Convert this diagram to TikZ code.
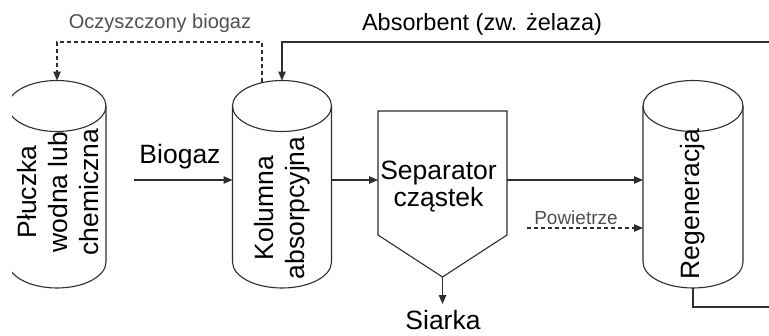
\documentclass[tikz,border=0pt]{standalone}
\usepackage{fontspec}
\setmainfont{Liberation Sans}
\usetikzlibrary{arrows.meta}
\definecolor{ln}{HTML}{2E2E2E}
\definecolor{lbl}{HTML}{505050}
\newcommand\drawcyl[2]{%
  \draw (#1,-106) ellipse [x radius=#2, y radius=25.5];
  \draw (#1-#2,-106) -- (#1-#2,-262) arc[start angle=180,end angle=360,x radius=#2,y radius=26] -- (#1+#2,-106);
}
\begin{document}
\begin{tikzpicture}[x=1pt,y=1pt,line width=1.1pt,draw=ln,
  arr/.style={-{Triangle[length=9pt,width=7.5pt]}},
  dashline/.style={dash pattern=on 4pt off 3pt},
  big/.style={font=\fontsize{26.5}{31}\selectfont},
  cyltext/.style={big,rotate=90,align=center,inner sep=0pt},
  small/.style={font=\fontsize{20}{24}\selectfont,text=lbl,inner sep=0pt},
  mid/.style={font=\fontsize{23.5}{28}\selectfont,inner sep=0pt}]
\useasboundingbox (0,0) rectangle (769,-335);
\fill[white] (0,0) rectangle (769,-335);
\clip (12,1) rectangle (770,-336);

% cylinders
\drawcyl{57}{49}
\drawcyl{282}{49.5}
\drawcyl{693}{50}
\node[cyltext] (pl) at (58,-192) {Płuczka\\wodna lub\\chemiczna};
\node[cyltext] (kol) at (282,-208) {Kolumna\\absorpcyjna};
\node[cyltext] (reg) at (693,-204) {Regeneracja};

% separator
\draw (378,-111) -- (507,-111) -- (507,-235) -- (442.5,-277) -- (378,-235) -- cycle;
\node[big,anchor=base,inner sep=0pt] (sep1) at (438.5,-179) {Separator};
\node[big,anchor=base,inner sep=0pt] (sep2) at (438.5,-206) {cząstek};

% attachment points
\coordinate (plT) at (57,-80.5);
\coordinate (kolT) at (282,-80.5);
\coordinate (kolTd) at (262,-82);
\coordinate (kolW) at (232.5,-180);
\coordinate (kolE) at (331.5,-180);
\coordinate (sepW) at (378,-180);
\coordinate (sepE) at (507,-180);
\coordinate (sepS) at (442.5,-277);
\coordinate (regW1) at (643,-180);
\coordinate (regW2) at (643,-228);
\coordinate (regB) at (693,-288);
\coordinate (bioIn) at (134,-180);
\coordinate (powIn) at (527,-228);
\coordinate (siaOut) at (442.5,-304);
\coordinate (absIn) at (772,-42);
\coordinate (regOut) at (772,-307);

% labels
\node[small,anchor=base] (lblOcz) at (160,-28) {Oczyszczony biogaz};
\node[mid,anchor=base] (lblAbs) at (482,-30) {Absorbent (zw. żelaza)};
\node[big,anchor=base,inner sep=0pt] (lblBio) at (180,-163) {Biogaz};
\node[small,anchor=base,font=\fontsize{19}{22}\selectfont] (lblPow) at (576,-224) {Powietrze};
\node[big,anchor=base,inner sep=0pt] (lblSia) at (443,-329) {Siarka};

% connectors
\draw[arr,dashline] (kolTd) -- (kolTd|-0,-42) -- (plT|-0,-42) -- (plT);
\draw[arr] (absIn) -- (kolT|-0,-42) -- (kolT);
\draw[arr] (bioIn) -- (kolW);
\draw[arr] (kolE) -- (sepW);
\draw[arr] (sepE) -- (regW1);
\draw[arr,dashline] (powIn) -- (regW2);
\draw[arr] (sepS) -- (siaOut);
\draw (regB) -- (regB|-regOut) -- (regOut);
\end{tikzpicture}
\end{document}
